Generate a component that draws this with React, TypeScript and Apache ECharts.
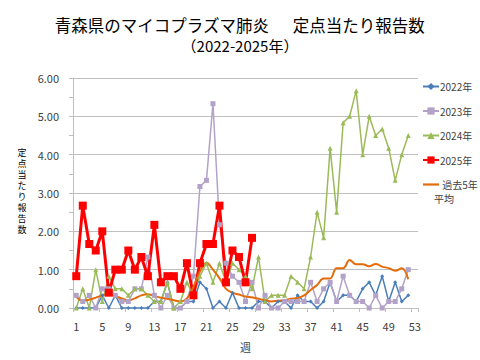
import React, { useEffect, useRef } from "react";
import * as echarts from "echarts";

const weeks = ["1","2","3","4","5","6","7","8","9","10","11","12","13","14","15","16","17","18","19","20","21","22","23","24","25","26","27","28","29","30","31","32","33","34","35","36","37","38","39","40","41","42","43","44","45","46","47","48","49","50","51","52","53"];

const y2022 = [0,0,0,0,0.33,0,0.33,0,0,0,0,0,
  0.17,0.17,0.67,0,0,0.17,0.17,0.67,0.5,0,0.17,0,0.4,
  0,0,0,0.17,0.17,0,0.17,0.17,0,0.33,0.17,0.17,0,
  0.17,0.67,0.17,0.33,0.33,0.17,0.5,0.67,0.33,0.83,0.17,0.67,0.17,0.33,
  null];

const y2023 = [0.33,0.17,0.33,0,0.5,0.5,0.33,0.17,0.17,0.5,0.5,1.33,0.33,
  0,0.33,0,0,0.17,0.83,3.17,3.33,5.33,2.17,1.17,0.83,0.67,
  0.17,0.67,0,0.33,0,0,0.17,0.17,0.17,0.17,0.67,0.17,0.5,
  0.67,0.17,0.83,0.33,0.17,0.17,0,0.33,0,0.17,0.17,0.5,1.0,
  null];

const y2024 = [0,0.5,0,1.0,0.17,0.83,0.5,0.5,0.33,0.5,0.5,0.33,
  0.17,0.17,0.67,0,0.17,0.67,0.33,0.83,1.17,0.67,1.17,0.67,1.17,
  1.0,0.83,0.5,1.33,0.17,0.33,0.33,0.33,0.83,0.67,0.5,1.33,2.5,
  1.83,4.17,2.5,4.83,5.0,5.67,4.0,5.0,4.5,4.67,4.17,3.33,4.0,4.5,
  null];

const y2025 = [0.83,2.67,1.67,1.5,2.0,0.4,1.0,1.0,1.5,1.0,1.33,0.83,2.17,0.67,
  0.83,0.83,0.5,1.17,0.33,1.17,1.67,1.67,2.67,0.67,1.5,1.33,0.67,1.83,
  null,null,null,null,null,null,null,null,null,null,null,null,null,
  null,null,null,null,null,null,null,null,null,null,null,null];

const avg5 = [0.3,0.19,0.22,0.27,0.33,0.36,0.31,0.25,0.2,0.25,0.33,0.36,0.31,
  0.27,0.24,0.2,0.17,0.25,0.55,0.95,1.18,1.0,0.78,0.5,0.4,0.35,
  0.3,0.28,0.24,0.2,0.17,0.19,0.2,0.24,0.26,0.33,0.47,0.6,0.77,
  0.77,1.04,1.04,1.25,1.14,1.14,1.09,1.15,1.08,1.04,0.97,1.04,0.75,
  null];

const seriesNames = ["2022年", "2023年", "2024年", "2025年", "過去5年平均"];
const yAxisTitle = ["定", "点", "当", "た", "り", "報", "告", "数"];

const FONT = "'Noto Sans CJK JP', 'Noto Sans', sans-serif";

export default function App() {
  const ref = useRef<HTMLDivElement>(null);
  useEffect(() => {
    if (!ref.current) return;
    const chart = echarts.init(ref.current, null, { renderer: "svg" });
    const yTitleTexts = yAxisTitle.map((ch, i) => ({
      type: "text",
      x: 22,
      y: 152 + i * 11,
      style: {
        text: ch,
        fontSize: 9,
        lineHeight: 9,
        fontFamily: FONT,
        fill: "#000000",
        align: "center",
        verticalAlign: "middle",
      },
    }));
    chart.setOption({
      animation: false,
      backgroundColor: "#ffffff",
      textStyle: { fontFamily: FONT },
      grid: { left: 73, right: 62, top: 78, bottom: 52 },
      graphic: [
        {
          type: "text",
          left: "center",
          top: 17,
          style: {
            text: "青森県のマイコプラズマ肺炎　  定点当たり報告数",
            fontSize: 16.5,
            fontFamily: FONT,
            fill: "#000000",
          },
        },
        {
          type: "text",
          left: "center",
          top: 38,
          style: {
            text: "（2022-2025年）",
            fontSize: 15,
            fontFamily: FONT,
            fill: "#000000",
          },
        },
        ...yTitleTexts,
        {
          type: "text",
          x: 434,
          y: 198,
          style: {
            text: "平均",
            fontSize: 10,
            fontFamily: FONT,
            fill: "#404040",
            align: "left",
            verticalAlign: "middle",
          },
        },
      ],
      legend: {
        orient: "vertical",
        left: 417,
        top: 75,
        itemWidth: 16,
        itemHeight: 9,
        itemGap: 11.5,
        data: [
          seriesNames[0],
          seriesNames[1],
          seriesNames[2],
          seriesNames[3],
          { name: seriesNames[4], icon: "path://M0,0 L16,0 L16,2.2 L0,2.2 Z" },
        ],
        formatter: (name: string) => (name === "過去5年平均" ? " 過去5年" : name),
        textStyle: { fontSize: 10, lineHeight: 13, color: "#404040", fontFamily: FONT, padding: [0, 0, 0, -4] },
      },
      xAxis: {
        type: "category",
        data: weeks,
        boundaryGap: true,
        name: "週",
        nameLocation: "middle",
        nameGap: 33,
        nameTextStyle: { fontSize: 11, color: "#404040", fontFamily: FONT },
        axisLine: { lineStyle: { color: "#bfbfbf" } },
        axisTick: { show: true, interval: 3, length: 4, lineStyle: { color: "#bfbfbf" } },
        axisLabel: { interval: 3, fontSize: 11, color: "#404040", margin: 12 },
        splitLine: { show: false },
      },
      yAxis: {
        type: "value",
        min: 0,
        max: 6,
        interval: 1,
        axisLine: { show: true, lineStyle: { color: "#bfbfbf" } },
        axisTick: { show: true, length: 4, lineStyle: { color: "#bfbfbf" } },
        minorTick: { show: true, splitNumber: 2, length: 4, lineStyle: { color: "#bfbfbf" } },
        axisLabel: {
          fontSize: 11,
          color: "#404040",
          margin: 14,
          formatter: (v: number) => v.toFixed(2),
        },
        splitLine: { show: true, lineStyle: { color: "#bfbfbf", width: 1 } },
      },
      series: [
        {
          name: seriesNames[0],
          type: "line",
          data: y2022,
          symbol: "diamond",
          symbolSize: 4,
          showAllSymbol: true,
          color: "#4a7ebb",
          lineStyle: { width: 1.5 },
        },
        {
          name: seriesNames[1],
          type: "line",
          data: y2023,
          symbol: "rect",
          symbolSize: 5,
          showAllSymbol: true,
          color: "#b3a2c7",
          lineStyle: { width: 1.5 },
        },
        {
          name: seriesNames[2],
          type: "line",
          data: y2024,
          symbol: "triangle",
          symbolSize: 5,
          showAllSymbol: true,
          color: "#9bbb59",
          lineStyle: { width: 1.5 },
        },
        {
          name: seriesNames[3],
          type: "line",
          data: y2025,
          symbol: "rect",
          symbolSize: 8,
          showAllSymbol: true,
          color: "#ff0000",
          lineStyle: { width: 3 },
        },
        {
          name: seriesNames[4],
          type: "line",
          data: avg5,
          symbol: "none",
          smooth: 0.4,
          color: "#e46c0a",
          lineStyle: { width: 2 },
        },
      ],
    });
    return () => chart.dispose();
  }, []);
  return (
    <div
      ref={ref}
      style={{ position: "fixed", left: 0, top: 0, width: 480, height: 360, background: "#fff" }}
    />
  );
}
